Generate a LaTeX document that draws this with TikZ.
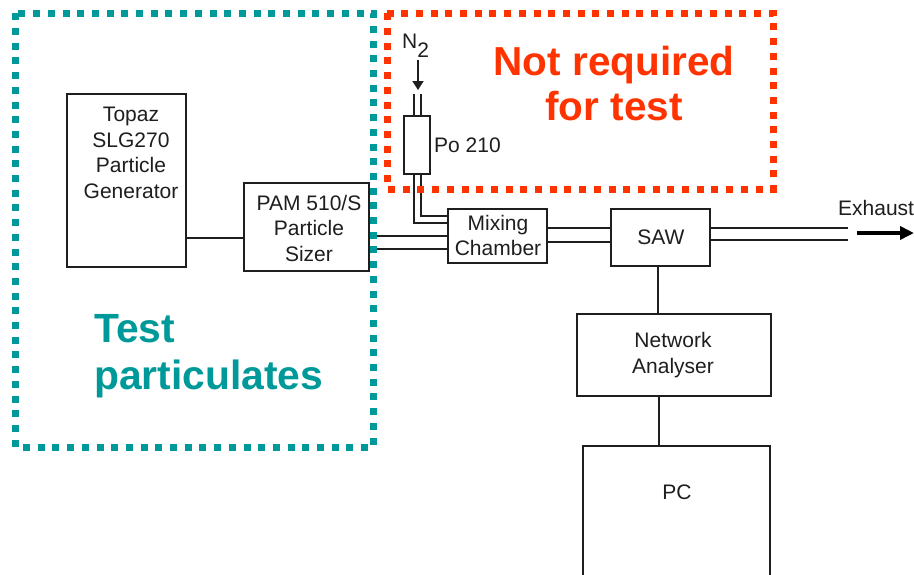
\documentclass[tikz,border=0pt]{standalone}
\usepackage{fontspec}
\setmainfont{Liberation Sans}
\usetikzlibrary{arrows.meta}
\definecolor{tealc}{RGB}{0,153,153}
\definecolor{redc}{RGB}{255,51,0}
\definecolor{inkc}{RGB}{30,30,30}
\begin{document}
\begin{tikzpicture}[x=1pt,y=-1pt,
  box/.style={draw=inkc, line width=2.9pt, inner sep=0pt, fill=white},
  txt/.style={font=\fontsize{21}{25.5}\selectfont, align=center, inner sep=0pt, text=inkc},
  conn/.style={draw=inkc, line width=2.8pt},
  pipe/.style={draw=inkc, line width=1.7pt},
  dotbox/.style={line width=7pt, dash pattern=on 7pt off 7.7pt}
]
\fill[white] (0,0) rectangle (914,574);
\useasboundingbox (0,0) rectangle (914,574);

% boxes
\node[box, minimum width=119, minimum height=173] (topaz) at (126.5,180.5) {};
\node[box, minimum width=125, minimum height=88] (pam) at (306.5,227) {};
\node[box, minimum width=99, minimum height=54] (mix) at (497.5,236) {};
\node[box, minimum width=99, minimum height=57] (saw) at (660.5,237.5) {};
\node[box, minimum width=194, minimum height=82] (na) at (674,355) {};
\node[box, minimum width=187, minimum height=140] (pc) at (676.5,516) {};
\node[box, line width=1.7pt, minimum width=26, minimum height=58] (po) at (417,145) {};

% texts
\node[txt] (topaztxt) at (131,153) {Topaz\\SLG270\\Particle\\Generator};
\node[txt] (pamtxt) at (309,228) {PAM 510/S\\Particle\\Sizer};
\node[txt] (mixtxt) at (498,235.5) {Mixing\\Chamber};
\node[txt] (sawtxt) at (661,237) {SAW};
\node[txt] (natxt) at (673,355) {Network\\Analyser};
\node[txt] (pctxt) at (677,492) {PC};
\node[txt, anchor=west] (potxt) at (434,145) {Po 210};
\node[txt, anchor=base west] (n2txt) at (402,48) {N\raisebox{-9pt}{2}};
\node[txt, anchor=west] (extxt) at (838,208) {Exhaust};

% connectors
\draw[conn] (topaz.east |- 0,238) -- (pam.west |- 0,238);
\draw[pipe] (pam.east |- 0,236) -- (mix.west |- 0,236);
\draw[pipe] (pam.east |- 0,249) -- (mix.west |- 0,249);
\draw[pipe] (po.south -| 414,0) -- (414,223) -- (mix.west |- 0,223);
\draw[pipe] (po.south -| 421,0) -- (421,216) -- (mix.west |- 0,216);
\coordinate (pin1) at (414,94);
\coordinate (pin2) at (421,94);
\draw[pipe] (po.north -| pin1) -- (pin1);
\draw[pipe] (po.north -| pin2) -- (pin2);
\coordinate (n2a) at (418,60);
\coordinate (n2b) at (418,90);
\draw[pipe, -{Triangle[length=9pt,width=11pt]}] (n2a) -- (n2b);
\draw[pipe] (mix.east |- 0,228) -- (saw.west |- 0,228);
\draw[pipe] (mix.east |- 0,242) -- (saw.west |- 0,242);
\coordinate (exa) at (848,228);
\coordinate (exb) at (848,240);
\draw[pipe] (saw.east |- exa) -- (exa);
\draw[pipe] (saw.east |- exb) -- (exb);
\coordinate (arra) at (857,233);
\coordinate (arrb) at (914,233);
\draw[draw=black, line width=4pt, -{Triangle[length=14pt,width=13pt]}] (arra) -- (arrb);
\draw[conn] (saw.south -| 658,0) -- (na.north -| 658,0);
\draw[conn] (na.south -| 659,0) -- (pc.north -| 659,0);

% dotted regions
\draw[tealc, dotbox] (15.7,13.3) rectangle (373.3,447);
\draw[redc, dotbox] (387.3,13.3) rectangle (773.3,189);

\node[font=\fontsize{40.5}{45}\selectfont\bfseries, text=redc, align=center, inner sep=0pt] (nrt) at (614,84) {Not required\\for test};
\node[font=\fontsize{40.8}{47}\selectfont\bfseries, text=tealc, align=left, inner sep=0pt, anchor=west] (tpt) at (94,356) {Test\\particulates};
\end{tikzpicture}
\end{document}
